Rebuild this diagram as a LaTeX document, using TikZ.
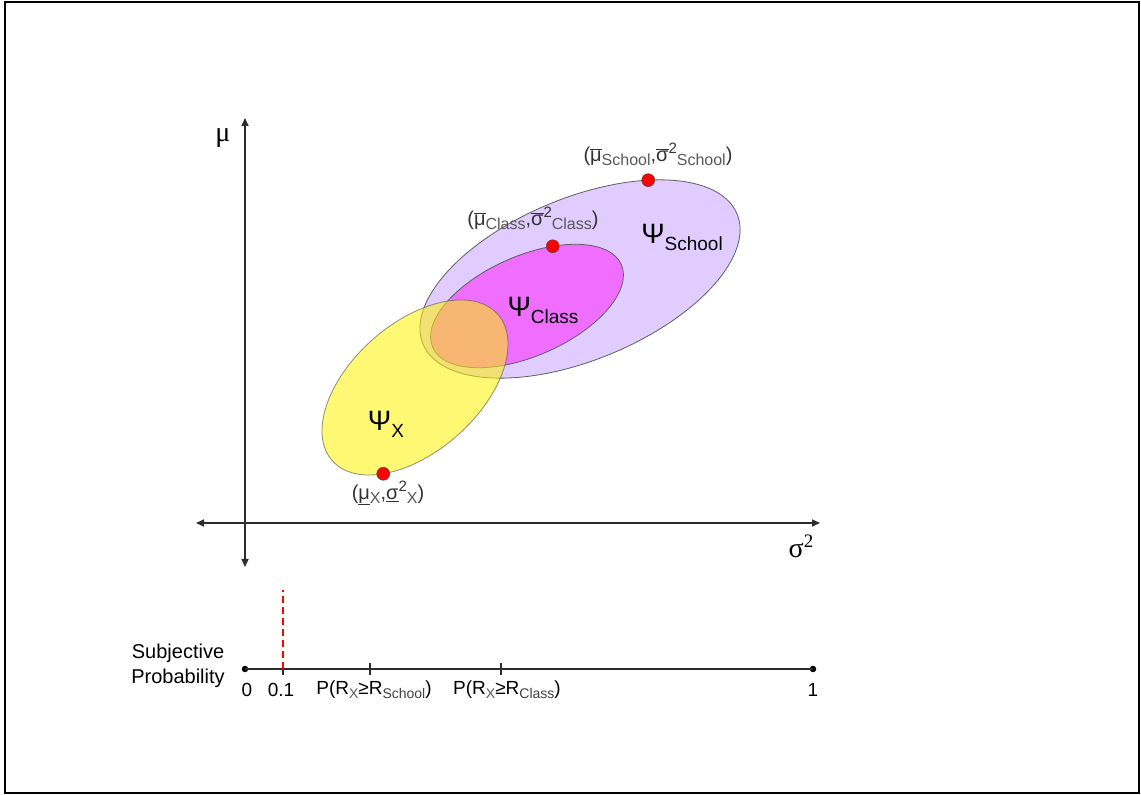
\documentclass[tikz,border=0pt]{standalone}
\usepackage{fontspec}
\setmainfont{Liberation Sans}
\newfontfamily\serifgr{Liberation Serif}
\usetikzlibrary{arrows.meta}
\definecolor{schoolfill}{RGB}{224,204,255}
\definecolor{classfill}{RGB}{240,110,255}
\definecolor{edgegray}{RGB}{95,95,95}
\definecolor{axisgray}{RGB}{45,45,45}
\newcommand\fs[1]{\fontsize{#1}{#1}\selectfont}
\newcommand\subx[2]{\raisebox{-4pt}{\fs{#1}#2}}
\newcommand\supx[2]{\raisebox{8pt}{\fs{#1}#2}}
\newcommand\olb[1]{$\overline{\hbox{#1}}$}
\newcommand\ulb[1]{$\underline{\hbox{#1}}$}
\tikzset{
  axisline/.style={draw=axisgray,line width=1.6pt,{Triangle[length=8pt,width=7pt]}-{Triangle[length=8pt,width=7pt]}},
  ellbord/.style={draw=edgegray,line width=0.8pt},
  reddot/.style={circle,fill=red,draw=black!70,line width=0.5pt,inner sep=0pt,minimum size=13pt},
  blackdot/.style={circle,fill=black,inner sep=0pt,minimum size=6.5pt},
  pairlabel/.style={text=black!80,inner sep=0pt},
  psilabel/.style={text=black,inner sep=0pt},
  ticklabel/.style={text=black,inner sep=0pt},
}
\begin{document}
\begin{tikzpicture}[x=1pt,y=1pt]
\useasboundingbox (0,0) rectangle (1141,795);
% frame
\draw[line width=2pt] (5,793) rectangle (1139,2);

% ellipses
\begin{scope}[shift={(580,516)},rotate=22.5]
  \filldraw[ellbord,fill=schoolfill] (0,0) ellipse [x radius=170pt, y radius=81pt];
  \coordinate (dS) at (53.6:170pt and 81pt);
\end{scope}
\begin{scope}[shift={(527,489)},rotate=23.7]
  \filldraw[ellbord,fill=classfill] (0,0) ellipse [x radius=103pt, y radius=50pt];
  \coordinate (dC) at (62.5:103pt and 50pt);
\end{scope}
\begin{scope}[shift={(415,407.5)},rotate=41.5]
  \filldraw[ellbord,fill=yellow,fill opacity=0.55,draw opacity=0.7] (0,0) ellipse [x radius=110.5pt, y radius=64pt];
  \coordinate (dX) at (222.9:110.5pt and 64pt);
\end{scope}

% axes
\coordinate (vtop) at (245,677);
\coordinate (vbot) at (245,228);
\coordinate (hleft) at (196,272);
\coordinate (hright) at (820,272);
\draw[axisline] (vbot) -- (vtop);
\draw[axisline] (hleft) -- (hright);
\node[inner sep=0pt] (mulab) at (223,657) {\serifgr\fs{28pt}μ};
\node[inner sep=0pt] (siglab) at (801,249) {\serifgr\fs{28pt}σ\raisebox{10pt}{\fs{19pt}2}};

% dots
\node[reddot] (pS) at (dS) {};
\node[reddot] (pC) at (dC) {};
\node[reddot] (pX) at (dX) {};

% pair labels
\node[pairlabel] (lS) at (658,641) {\fs{20pt}(\olb{μ}\subx{16pt}{\color{black!65}School},\olb{σ}\supx{15pt}{2}\subx{16pt}{\color{black!65}School})};
\node[pairlabel] (lC) at (533,577) {\fs{20pt}(\olb{μ}\subx{16pt}{\color{black!65}Class},\olb{σ}\supx{15pt}{2}\subx{16pt}{\color{black!65}Class})};
\node[pairlabel] (lX) at (388,302) {\fs{20pt}(\ulb{μ}\subx{16pt}{\color{black!65}X},\ulb{σ}\supx{15pt}{2}\subx{16pt}{\color{black!65}X})};

% psi labels
\node[psilabel] (psS) at (682,558) {\fs{28pt}Ψ\raisebox{-7pt}{\fs{19pt}School}};
\node[psilabel] (psC) at (543,485) {\fs{28pt}Ψ\raisebox{-7pt}{\fs{19pt}Class}};
\node[psilabel] (psX) at (386,371) {\fs{28pt}Ψ\raisebox{-7pt}{\fs{19pt}X}};

% probability line
\node[blackdot] (p0) at (245,126) {};
\node[blackdot] (p1) at (813,126) {};
\draw[line width=1.4pt,draw=axisgray] (p0.center) -- (p1.center);
\coordinate (t01) at (283,126);
\coordinate (tS) at (370,126);
\coordinate (tC) at (501,126);
\foreach \t in {t01,tS,tC}{
  \draw[line width=1.3pt,draw=axisgray] ([yshift=-6pt]\t) -- ([yshift=6pt]\t);
}
\coordinate (redtop) at (283,205);
\draw[red,line width=1.6pt,dash pattern=on 7pt off 4pt] (t01) -- (redtop);

\node[ticklabel] (l0) at (247,105) {\fs{19pt}0};
\node[ticklabel] (l01) at (281,105) {\fs{19pt}0.1};
\node[ticklabel] (lPS) at (374,105) {\fs{19pt}P(R\subx{14pt}{\color{black!65}X}≥R\subx{14pt}{\color{black!75}School})};
\node[ticklabel] (lPC) at (507,105) {\fs{19pt}P(R\subx{14pt}{\color{black!65}X}≥R\subx{14pt}{\color{black!75}Class})};
\node[ticklabel] (l1) at (813,105) {\fs{19pt}1};
\node[ticklabel,align=center] (subj) at (178,129) {\fs{20pt}Subjective\\[5pt]\fs{20pt}Probability};
\end{tikzpicture}
\end{document}
